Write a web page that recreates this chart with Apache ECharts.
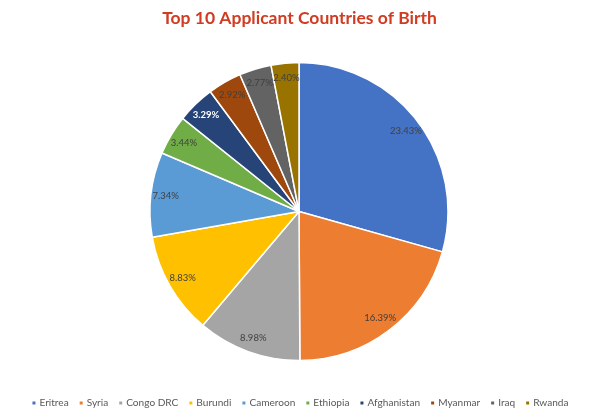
<!DOCTYPE html>
<html>
<head>
<meta charset="utf-8">
<script src="https://cdn.jsdelivr.net/npm/echarts@6/dist/echarts.min.js"></script>
<style>
  html, body { margin: 0; padding: 0; background: #fff; }
  #chart { width: 599px; height: 416px; }
</style>
</head>
<body>
<div id="chart"></div>
<script>
// Top 10 applicant countries of birth (share, %)
const countries = ['Eritrea', 'Syria', 'Congo DRC', 'Burundi', 'Cameroon', 'Ethiopia', 'Afghanistan', 'Myanmar', 'Iraq', 'Rwanda'];
const shares = [23.43, 16.39, 8.98, 8.83, 7.34, 3.44, 3.29, 2.92, 2.77, 2.40];
const colors = ['#4472C4', '#ED7D31', '#A5A5A5', '#FFC000', '#5B9BD5', '#70AD47', '#264478', '#9E480E', '#636363', '#997300'];
const labelColors = ['#404040', '#404040', '#404040', '#404040', '#404040', '#404040', '#FFFFFF', '#404040', '#404040', '#404040'];

const CX = 299, CY = 211.5, R = 149;
const LABEL_R = R * 0.9;

const total = shares.reduce((a, b) => a + b, 0);
// mid angle of each slice (clockwise from 12 o'clock)
const midAngles = [];
let acc = 0;
shares.forEach(v => {
  midAngles.push((acc + v / 2) / total * Math.PI * 2);
  acc += v;
});

const chart = echarts.init(document.getElementById('chart'));
chart.setOption({
  animation: false,
  color: colors,
  title: {
    text: 'Top 10 Applicant Countries of Birth',
    left: 'center',
    top: 4,
    textStyle: {
      fontFamily: 'Lato',
      fontSize: 17.5,
      fontWeight: 'bold',
      color: '#D13B22'
    }
  },
  legend: {
    bottom: 8,
    left: 'center',
    width: 590,
    padding: 0,
    itemWidth: 5,
    itemHeight: 5,
    itemGap: 9,
    icon: 'rect',
    textStyle: { fontFamily: 'Lato', fontSize: 10.1, color: '#595959', padding: [0, 0, 0, -2] },
    data: countries
  },
  series: [{
    type: 'pie',
    center: [CX, CY],
    radius: [0, R],
    startAngle: 90,
    clockwise: true,
    itemStyle: { borderColor: '#fff', borderWidth: 1.5 },
    label: {
      show: true,
      position: 'inside',
      align: 'center',
      verticalAlign: 'middle',
      fontFamily: 'Lato',
      fontSize: 9.5,
      formatter: p => p.value.toFixed(2) + '%'
    },
    labelLine: { show: false },
    labelLayout: p => {
      const a = midAngles[p.dataIndex];
      return {
        x: CX + LABEL_R * Math.sin(a),
        y: CY - LABEL_R * Math.cos(a),
        align: 'center',
        verticalAlign: 'middle'
      };
    },
    emphasis: { disabled: true },
    data: countries.map((c, i) => ({
      name: c,
      value: shares[i],
      label: { color: labelColors[i], fontWeight: i === 6 ? 'bold' : 'normal' }
    }))
  }]
});
</script>
</body>
</html>
